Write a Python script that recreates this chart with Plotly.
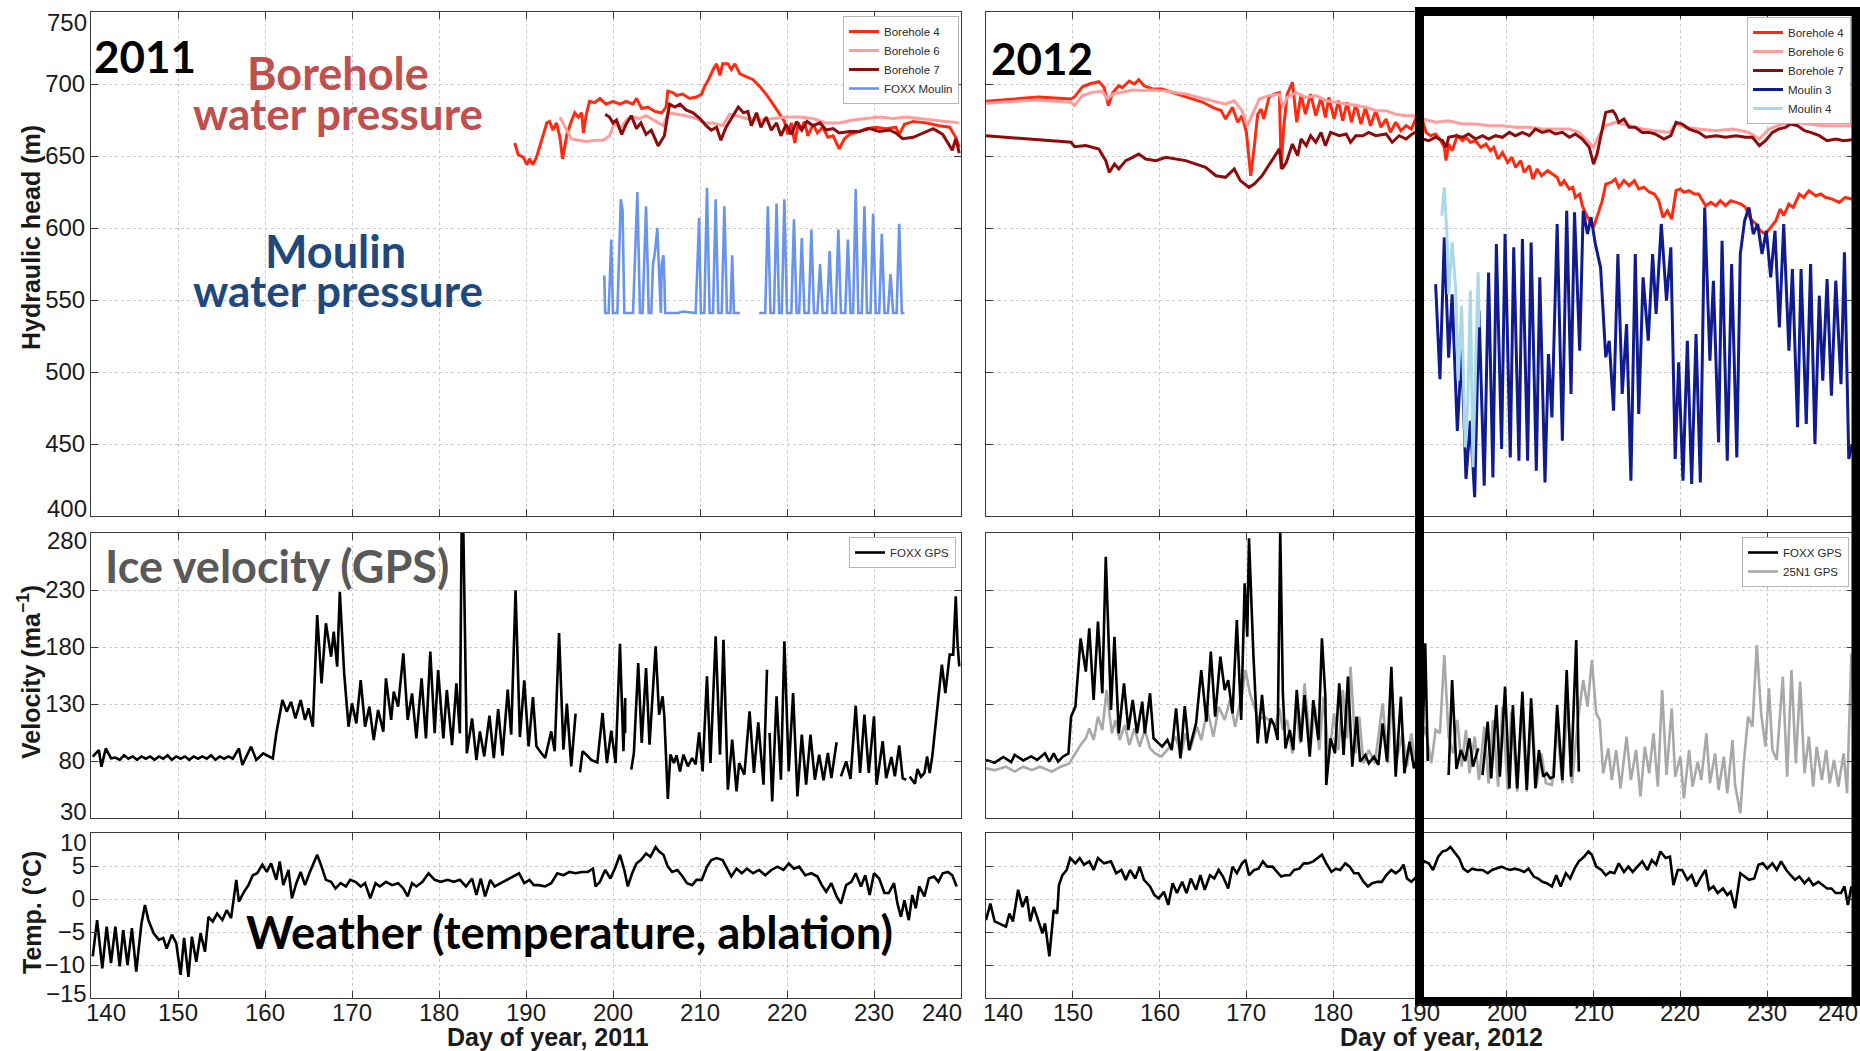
import plotly.graph_objects as go

W, H = 1860, 1051

# ---------------- Hydraulic head, 2011 ----------------
bh4_2011_day = [188.7, 189.1, 189.7, 190.1, 190.4, 190.8, 191.2, 191.8, 192.4, 192.7, 193.1, 193.5, 193.9, 194.2,
                194.7, 195.2, 195.6, 196.0, 196.4, 196.6, 196.9, 197.3, 197.9, 198.5, 199.2, 200.0, 200.8, 201.5,
                202.3, 202.7, 203.3, 204.0, 204.8, 205.6, 206.1, 206.3, 206.9, 207.3, 208.0, 208.8, 209.6, 210.2,
                210.5, 210.9, 211.5, 211.9, 212.3, 212.6, 213.2, 213.6, 214.0, 214.6, 215.3, 216.1, 216.9, 217.6,
                218.4, 219.1, 219.7, 220.1, 220.5, 220.9, 221.3, 221.6, 222.0, 222.4, 223.0, 223.5, 224.1, 224.7,
                225.3, 226.0, 226.6, 227.2, 228.3, 229.1, 230.2, 231.4, 232.5, 232.9, 233.5, 234.5, 236.0, 237.5,
                238.7, 239.4, 239.8]
bh4_2011_head = [659, 651, 649, 644, 648, 644, 649, 661, 673, 674, 668, 673, 663, 648,
                 665, 674, 680, 677, 680, 666, 678, 688, 687, 690, 686, 688, 686, 688,
                 686, 690, 683, 684, 681, 680, 684, 695, 694, 692, 693, 690, 691, 693,
                 698, 702, 710, 714, 706, 714, 714, 710, 714, 707, 705, 703, 698, 693,
                 686, 679, 674, 665, 673, 659, 673, 668, 674, 664, 672, 666, 670, 663,
                 664, 655, 662, 665, 667, 669, 670, 669, 670, 665, 672, 674, 673, 671,
                 670, 663, 656]

bh6_2011_day = [193.9, 194.5, 195.2, 196.0, 197.0, 198.0, 198.9, 199.6, 200.2, 200.8, 201.7, 202.3, 203.0, 203.8,
                205.0, 205.8, 206.3, 207.3, 208.4, 209.6, 210.5, 211.5, 212.6, 213.4, 214.2, 215.3, 216.8, 218.4,
                219.9, 221.4, 223.0, 224.5, 226.0, 227.6, 229.1, 230.6, 232.2, 233.7, 235.2, 236.8, 238.3, 239.8]
bh6_2011_head = [677, 670, 662, 661, 660, 661, 661, 664, 673, 669, 676, 677, 676, 678,
                 674, 671, 680, 679, 678, 676, 673, 673, 671, 679, 678, 676, 675, 676,
                 677, 677, 676, 673, 673, 675, 676, 677, 676, 677, 676, 675, 674, 673]

bh7_2011_day = [199.1, 199.6, 200.0, 200.4, 201.0, 201.5, 202.1, 202.7, 203.2, 203.8, 204.4, 205.2, 205.9, 206.5,
                207.1, 207.7, 208.4, 209.2, 210.0, 210.7, 211.3, 211.9, 212.4, 213.0, 213.8, 214.4, 215.0, 215.5,
                215.9, 216.5, 217.0, 217.6, 218.2, 218.8, 219.3, 219.9, 220.5, 221.1, 221.7, 222.3, 223.0, 223.8,
                224.5, 225.3, 226.0, 227.2, 228.3, 229.5, 230.6, 231.8, 232.5, 233.3, 234.5, 235.6, 236.8, 237.9,
                238.5, 239.0, 239.4, 239.8]
bh7_2011_head = [679, 677, 673, 675, 665, 672, 678, 669, 673, 665, 668, 657, 664, 686,
                 684, 686, 682, 680, 676, 671, 668, 670, 661, 670, 678, 684, 680, 681,
                 671, 680, 670, 677, 668, 673, 664, 672, 665, 674, 668, 674, 671, 673,
                 668, 669, 666, 667, 667, 669, 667, 668, 666, 662, 663, 666, 669, 665,
                 659, 654, 662, 652]

moulin_2011_day = [199.0, 199.1, 199.5, 199.8, 200.0, 200.5, 200.9, 201.1, 201.3, 202.3, 202.8, 203.1, 203.4,
                   203.8, 204.0, 204.1, 204.4, 204.6, 204.8, 205.1, 205.3, 205.5, 205.6, 205.8, 205.9, 206.0,
                   206.5, 207.5, 208.0, 209.5, 209.9, 210.1, 210.5, 210.8, 211.1, 211.5, 211.8, 212.1, 212.5,
                   212.8, 213.1, 213.5, 213.7, 213.9, 214.6, None,
                   216.8, 217.5, 217.8, 218.1, 218.5, 218.8, 219.1, 219.4, 219.7, 220.0, 220.5, 220.8, 221.1,
                   221.4, 221.7, 222.0, 222.5, 222.8, 223.1, 223.5, 223.8, 224.1, 224.6, 224.9, 225.2, 225.6,
                   225.9, 226.2, 226.7, 227.0, 227.3, 227.6, 227.9, 228.2, 228.6, 228.9, 229.2, 229.6, 229.9,
                   230.2, 230.6, 230.9, 231.2, 231.6, 231.9, 232.2, 232.6, 232.9, 233.2, 233.5]
moulin_2011_head = [567, 541, 541, 592, 541, 541, 620, 612, 541, 541, 625, 541, 541,
                    615, 570, 541, 541, 575, 582, 600, 568, 541, 575, 581, 565, 541,
                    541, 541, 542, 541, 607, 541, 541, 628, 541, 541, 620, 541, 541,
                    615, 541, 541, 581, 541, 541, None,
                    541, 541, 615, 541, 541, 617, 541, 541, 620, 541, 541, 606, 541,
                    541, 593, 541, 541, 599, 541, 541, 575, 541, 541, 584, 541, 541,
                    599, 541, 541, 592, 541, 541, 627, 541, 541, 615, 541, 541, 610,
                    541, 541, 596, 541, 541, 568, 541, 541, 603, 541, 541]

# ---------------- Hydraulic head, 2012 ----------------
bh4_2012_day = [140.0, 143.8, 146.1, 149.8, 150.2, 151.1, 151.9, 153.0, 153.6, 154.1, 154.6, 155.3, 155.7, 156.5,
                157.1, 157.6, 158.2, 159.2, 160.3, 161.5, 162.6, 163.8, 165.0, 166.1, 167.1, 167.6, 168.4, 169.0,
                169.5, 170.0, 170.5, 170.9, 171.3, 171.7, 172.0, 172.6, 173.2, 173.8, 174.0, 174.3, 174.7, 175.3,
                175.8, 176.3, 176.8, 177.4, 178.0, 178.6, 179.1, 179.5, 180.1, 180.6, 181.1, 181.6, 182.1, 182.6,
                183.2, 183.7, 184.3, 184.9, 185.5, 186.1, 186.6, 187.2, 187.8, 188.4, 189.0, 189.5, 190.3, 190.7,
                191.2, 191.8, 192.4, 192.8, 193.0, 193.3, 193.7, 194.3, 194.9, 195.3, 195.8, 196.4, 197.0, 197.6,
                198.1, 198.5, 199.0, 199.5, 200.1, 200.6, 201.0, 201.6, 202.0, 202.6, 203.0, 203.5, 204.0, 204.7,
                205.2, 205.8, 206.2, 206.6, 207.2, 207.6, 207.9, 208.4, 208.7, 209.3, 210.0, 210.4, 211.0, 211.4,
                212.0, 212.5, 212.9, 213.5, 214.1, 214.7, 215.2, 215.8, 216.4, 217.0, 217.5, 218.0, 218.5, 219.0,
                219.5, 220.0, 220.4, 221.0, 221.6, 222.1, 222.9, 223.5, 224.1, 224.6, 225.2, 225.8, 226.4, 227.0,
                227.5, 228.1, 228.7, 229.2, 229.8, 230.4, 231.0, 231.5, 231.9, 232.5, 233.0, 233.7, 234.2, 234.8,
                235.6, 236.2, 236.7, 237.5, 238.3, 239.0, 239.8]
bh4_2012_head = [688.0, 689.6, 691.0, 689.6, 691.0, 698.0, 700.0, 701.6, 697.7, 685.0, 694.0, 698.8, 697.5, 702.0,
                 700.0, 703.0, 698.8, 696.5, 696.5, 694.0, 691.9, 689.6, 687.3, 683.8, 681.5, 675.7, 683.8, 673.4,
                 678.0, 666.4, 636.3, 656.0, 679.0, 682.6, 675.7, 690.7, 693.0, 694.0, 641.0, 670.0, 693.0, 701.2,
                 673.4, 693.0, 679.0, 693.0, 678.0, 690.7, 676.8, 690.7, 675.7, 688.4, 674.5, 687.3, 673.4, 686.0,
                 672.2, 683.8, 671.0, 681.5, 670.0, 675.7, 666.4, 673.4, 667.6, 671.0, 668.7, 675.7, 674.5, 666.4,
                 664.1, 665.3, 660.6, 656.0, 646.8, 658.3, 653.7, 664.1, 660.6, 663.0, 659.5, 660.6, 656.0, 658.3,
                 653.7, 656.0, 647.9, 652.5, 645.6, 649.1, 642.1, 646.8, 638.6, 643.3, 634.0, 641.0, 636.3, 639.8,
                 637.5, 635.2, 629.4, 632.9, 627.1, 628.2, 621.3, 623.6, 615.5, 607.4, 600.5, 607.4, 619.0, 630.5,
                 631.7, 634.0, 628.2, 632.9, 629.4, 632.9, 627.1, 628.3, 625.0, 623.6, 619.0, 607.4, 612.0, 606.2,
                 625.9, 627.1, 624.8, 625.9, 623.6, 623.6, 615.5, 617.8, 615.5, 619.0, 615.5, 619.0, 617.8, 616.6,
                 614.3, 606.2, 602.8, 598.1, 595.8, 600.5, 605.1, 613.2, 608.6, 616.6, 614.3, 623.6, 621.3, 625.9,
                 622.4, 623.6, 621.3, 620.1, 617.8, 621.3, 620.0]

bh6_2012_day = [140.0, 145.7, 149.8, 150.2, 151.1, 152.3, 153.4, 154.0, 154.6, 155.7, 156.9, 158.0, 159.2, 160.3,
                161.5, 163.0, 164.5, 166.1, 167.6, 168.6, 169.5, 170.1, 170.7, 171.5, 172.6, 173.8, 174.2, 174.7,
                175.7, 176.8, 178.0, 179.2, 180.3, 181.5, 182.6, 183.8, 184.9, 186.1, 187.2, 188.4, 189.5, 190.3,
                191.8, 193.3, 194.9, 196.4, 198.0, 199.5, 201.0, 202.6, 204.1, 205.6, 207.2, 208.3, 209.3, 210.0,
                210.6, 211.4, 212.5, 214.1, 215.6, 217.1, 218.7, 219.5, 220.6, 222.1, 224.1, 226.0, 227.9, 229.1,
                230.2, 231.7, 233.3, 234.8, 236.4, 237.9, 239.8]
bh6_2012_head = [686.6, 688.9, 687.3, 685.0, 691.9, 694.2, 694.9, 689.6, 693.0, 694.2, 695.8, 695.4, 695.8, 695.4,
                 694.2, 693.0, 690.7, 688.4, 686.0, 688.4, 681.5, 671.0, 679.0, 689.6, 691.9, 693.0, 683.8, 690.7,
                 694.2, 690.7, 691.9, 688.4, 687.3, 686.0, 685.0, 683.8, 681.5, 681.5, 679.0, 678.0, 678.0, 675.7,
                 673.4, 674.5, 672.2, 672.2, 671.0, 671.0, 669.9, 669.9, 668.7, 668.7, 668.7, 666.4, 660.6, 656.0,
                 664.1, 671.0, 673.4, 671.0, 668.7, 667.6, 666.4, 672.2, 669.9, 668.7, 667.6, 668.7, 666.4, 661.8,
                 668.7, 672.2, 673.4, 672.2, 671.0, 671.0, 671.0]

bh7_2012_day = [140.0, 143.8, 147.7, 149.8, 150.2, 151.5, 153.0, 153.8, 154.2, 154.8, 155.3, 156.1, 156.9, 157.6,
                158.4, 159.6, 160.7, 161.9, 163.0, 164.2, 165.3, 166.5, 167.6, 168.6, 169.3, 170.3, 170.9, 171.8,
                172.8, 173.8, 174.1, 174.6, 175.3, 175.9, 176.3, 176.9, 177.4, 178.0, 178.6, 179.1, 179.7, 180.7,
                181.5, 182.0, 182.6, 183.4, 184.1, 184.9, 186.1, 186.8, 187.6, 188.4, 189.1, 189.5, 190.3, 191.0,
                191.8, 192.6, 193.0, 193.3, 194.1, 194.9, 195.6, 196.4, 197.2, 197.9, 198.7, 199.5, 200.3, 201.0,
                201.8, 202.6, 203.3, 204.1, 204.9, 205.6, 206.4, 207.2, 207.9, 208.7, 209.5, 210.0, 210.4, 211.0,
                211.4, 212.2, 212.5, 212.9, 213.5, 214.1, 214.8, 215.6, 216.4, 217.1, 218.1, 218.9, 219.5, 220.2,
                221.0, 222.1, 222.9, 224.1, 225.2, 226.4, 227.5, 228.3, 229.1, 229.8, 230.6, 231.3, 232.1, 232.7,
                233.5, 234.3, 235.0, 236.0, 236.9, 237.9, 238.8, 239.8]
bh7_2012_head = [664.1, 662.5, 660.6, 659.5, 656.5, 657.2, 654.9, 646.8, 638.6, 644.4, 641.0, 646.8, 649.1, 651.4,
                 647.9, 646.8, 649.1, 647.9, 646.8, 644.4, 642.1, 636.3, 635.2, 641.0, 632.9, 628.2, 630.5, 636.3,
                 645.6, 654.9, 641.0, 645.6, 658.3, 650.2, 661.8, 657.2, 664.1, 659.5, 666.4, 657.2, 666.4, 664.1,
                 665.3, 659.5, 664.1, 664.1, 666.4, 664.1, 665.3, 659.5, 664.1, 661.8, 665.3, 666.4, 661.8, 660.6,
                 663.0, 660.6, 656.0, 663.0, 664.1, 663.0, 665.3, 661.8, 664.1, 661.8, 664.1, 663.0, 666.4, 664.1,
                 666.4, 664.1, 668.7, 666.4, 667.6, 665.3, 666.4, 663.0, 665.3, 661.8, 656.0, 644.4, 651.4, 668.7,
                 680.3, 681.5, 679.0, 673.4, 675.7, 669.9, 669.9, 666.4, 666.4, 665.3, 661.8, 664.1, 673.4, 672.2,
                 668.7, 666.4, 663.0, 664.1, 663.0, 664.1, 663.0, 663.0, 657.2, 660.6, 666.4, 668.7, 669.9, 672.2,
                 671.0, 667.6, 666.4, 664.1, 660.6, 661.8, 660.6, 661.3]

moulin3_2012_day = [191.8, 192.3, 192.8, 193.3, 193.7, 194.3, 194.8, 195.3, 195.8, 196.3, 196.8, 197.4, 197.9, 198.4,
                    198.8, 199.4, 199.8, 200.4, 200.8, 201.4, 201.8, 202.4, 202.8, 203.4, 203.8, 204.4, 204.8, 205.2,
                    205.8, 206.4, 206.9, 207.4, 207.8, 208.4, 208.8, 209.3, 209.7, 210.2, 210.8, 211.4, 211.8, 212.3,
                    212.8, 213.3, 213.8, 214.3, 214.8, 215.2, 215.7, 216.3, 216.8, 217.2, 217.8, 218.4, 218.9, 219.4,
                    219.8, 220.3, 220.8, 221.3, 221.8, 222.3, 222.8, 223.4, 223.8, 224.4, 224.8, 225.4, 225.9, 226.5,
                    226.9, 227.4, 227.9, 228.4, 228.9, 229.4, 229.9, 230.4, 230.9, 231.4, 231.9, 232.5, 232.9, 233.5,
                    233.9, 234.5, 235.0, 235.5, 236.0, 236.4, 236.9, 237.4, 237.9, 238.5, 238.9, 239.4, 239.8]
moulin3_2012_head = [561.0, 495.0, 593.5, 510.0, 554.0, 459.0, 515.0, 425.7, 466.0, 413.0, 542.6, 421.0, 569.0, 426.8,
                     588.9, 446.5, 595.8, 440.7, 586.6, 438.4, 592.3, 438.4, 590.0, 431.5, 565.7, 423.3, 512.5, 468.5,
                     602.8, 452.3, 612.0, 484.7, 610.9, 514.8, 612.0, 595.8, 607.4, 588.9, 572.7, 510.2, 521.7, 473.1,
                     581.9, 484.7, 533.3, 424.5, 581.9, 470.8, 565.7, 521.7, 581.9, 540.3, 602.8, 549.5, 586.6, 439.6,
                     506.7, 424.5, 521.7, 422.2, 526.4, 423.3, 614.3, 507.8, 563.4, 451.1, 591.2, 438.4, 575.0, 440.7,
                     581.9, 605.1, 614.3, 595.8, 602.8, 581.9, 598.1, 565.7, 598.1, 531.0, 602.8, 514.8, 571.5, 461.6,
                     571.5, 463.9, 575.0, 450.0, 553.0, 494.0, 564.6, 483.5, 563.4, 491.6, 583.1, 439.6, 450.0]

moulin4_2012_day = [192.5, 192.8, 193.1, 193.3, 193.7, 194.1, 194.4, 194.8, 195.2, 195.5, 195.8, 196.1, 196.4, 196.7,
                    196.8]
moulin4_2012_head = [608.5, 628.2, 596.0, 554.0, 590.0, 558.8, 494.0, 546.0, 447.7, 477.8, 556.5, 433.8, 503.2, 569.2,
                     531.0]

# ---------------- Ice velocity ----------------
foxx_2011_day = [140.2, 140.9, 141.2, 141.7, 142.3, 142.8, 143.3, 143.8, 144.3, 144.8, 145.3, 145.8, 146.3, 146.8,
                 147.3, 147.8, 148.3, 148.8, 149.3, 149.8, 150.3, 150.8, 151.3, 151.8, 152.3, 152.8, 153.3, 153.8,
                 154.3, 154.8, 155.3, 155.8, 156.3, 157.0, 157.4, 158.4, 159.0, 159.8, 160.9, 161.3, 162.0, 162.5,
                 163.0, 163.5, 164.1, 164.6, 165.0, 165.5, 166.0, 166.5, 167.0, 167.6, 167.9, 168.3, 168.6, 169.1,
                 169.6, 170.0, 170.5, 171.0, 171.5, 172.0, 172.5, 173.0, 173.6, 173.9, 174.5, 174.8, 175.3, 175.9,
                 176.4, 176.9, 177.4, 178.0, 178.5, 179.0, 179.5, 179.9, 180.5, 180.9, 181.5, 182.0, 182.4, 182.6,
                 182.8, 183.2, 183.8, 184.3, 184.7, 185.2, 185.8, 186.3, 186.8, 187.3, 187.9, 188.3, 188.8, 189.3,
                 189.8, 190.3, 190.8, 191.2, 191.6, 192.2, 192.9, 193.3, 193.8, 194.3, 194.7, 195.2, 195.7, None,
                 196.2, 196.5, 197.0, 197.5, 198.2, 198.8, 199.3, 199.8, 200.3, 200.8, 201.2, 201.4, 201.4, None,
                 202.1, 202.4, 202.9, 203.3, 203.8, 204.2, 204.9, 205.3, 205.7, 205.9, 206.3, 206.6, 207.0, 207.3,
                 207.7, 208.1, 208.6, 209.1, 209.5, 209.9, 210.3, 210.8, 211.2, 211.8, 212.3, 212.7, 213.2, 213.7,
                 214.2, 214.5, 215.1, 215.7, 216.2, 216.7, 217.3, 217.7, None, 218.0, 218.3, 218.8, 219.3, 219.7,
                 220.2, 220.7, 221.2, 221.7, 222.2, 222.7, 223.2, 223.7, 224.2, 224.7, 225.1, 225.7, None, 226.2,
                 226.8, 227.3, 227.9, 228.4, 228.9, 229.4, 230.0, 230.3, 231.0, 231.4, 232.0, 232.4, 232.9, 233.3,
                 233.7, None, 234.1, 234.7, 235.0, 235.4, 235.8, 236.1, 236.4, 236.7, 237.2, 237.8, 238.2, 238.7,
                 239.1, 239.4, 239.6, 239.8]
foxx_2011_vel = [83.8, 89.6, 75.0, 91.0, 82.3, 83.0, 81.0, 85.0, 82.0, 84.0, 81.0, 84.0, 82.0, 84.0,
                 81.0, 84.0, 82.0, 85.0, 81.0, 84.0, 82.0, 84.0, 81.0, 84.0, 82.0, 84.0, 82.0, 85.0,
                 81.0, 84.0, 82.0, 84.0, 82.0, 91.0, 76.5, 92.6, 80.9, 86.7, 82.3, 104.3, 133.5, 123.3,
                 132.0, 117.4, 133.5, 116.0, 126.2, 110.1, 208.0, 148.0, 200.8, 171.5, 193.4, 162.7, 228.5, 156.9,
                 110.1, 130.6, 113.0, 151.0, 110.1, 127.7, 98.4, 124.7, 105.7, 152.5, 116.0, 140.8, 127.7, 174.4,
                 116.0, 139.3, 99.9, 152.5, 99.9, 175.9, 104.3, 159.8, 99.9, 142.3, 94.0, 148.1, 104.3, 282.0,
                 282.0, 86.7, 117.4, 80.9, 106.0, 84.0, 119.8, 82.6, 125.6, 84.7, 142.6, 103.1, 229.7, 101.0,
                 150.8, 92.9, 136.1, 92.9, 88.5, 82.6, 106.0, 88.5, 192.3, 90.0, 130.3, 75.3, 121.5, None,
                 70.0, 88.5, 85.0, 81.0, 78.8, 122.1, 78.2, 106.6, 78.2, 182.9, 88.5, 135.3, 104.6, None,
                 72.4, 87.0, 166.0, 95.8, 161.6, 94.3, 180.6, 120.6, 136.7, 119.2, 46.7, 85.6, 78.2, 85.0,
                 70.9, 85.6, 75.3, 82.6, 77.0, 105.1, 70.9, 154.3, 78.2, 189.4, 85.6, 186.4, 54.9, 98.7,
                 53.4, 78.2, 68.0, 123.6, 69.5, 113.9, 59.2, 160.1, None, 104.6, 44.6, 136.7, 63.6, 185.0,
                 70.9, 139.6, 49.0, 103.1, 59.2, 103.1, 63.6, 85.6, 63.0, 87.0, 65.0, 96.4, None, 66.5,
                 79.7, 64.2, 128.5, 69.5, 120.6, 69.5, 119.2, 59.2, 97.3, 65.0, 83.5, 66.5, 93.7, 65.0,
                 63.6, None, 66.5, 60.1, 73.0, 66.0, 69.5, 84.1, 69.5, 84.1, 120.6, 164.5, 139.6, 173.3,
                 173.3, 224.4, 183.5, 163.0]

foxx_2012_day = [140.0, 141.0, 142.0, 142.9, 143.3, 144.3, 145.2, 145.9, 146.8, 147.3, 147.8, 148.3, 148.9, 149.5,
                 149.8, 150.3, 150.9, 151.5, 151.9, 152.4, 152.9, 153.4, 153.8, 154.4, 154.8, 155.3, 155.9, 156.4,
                 156.9, 157.4, 158.0, 158.3, 158.9, 159.3, 159.9, 160.3, 160.9, 161.4, 161.9, 162.4, 162.9, 163.4,
                 164.2, 164.8, 165.4, 165.9, 166.4, 167.0, 167.5, 167.9, 168.4, 168.9, 169.4, 169.8, 170.1, 170.3,
                 170.8, 171.3, 171.8, 172.3, 172.8, 173.2, 173.6, 173.9, 174.2, 174.5, 175.0, 175.4, 175.8, 176.3,
                 176.7, 177.3, 177.7, 178.3, 178.7, 179.1, 179.2, 179.7, 180.2, 180.7, 181.2, 181.7, 182.2, 182.7,
                 183.1, 183.7, 184.1, 184.7, 185.2, 185.7, 186.2, 186.7, 187.2, 187.8, 188.2, 188.8, 189.3, 189.8,
                 190.3, 190.6, 190.9, None, 193.3, 193.7, 194.2, 194.7, 195.2, 195.7, 196.1, 196.7, None, 197.2,
                 197.8, 198.2, 198.8, 199.2, 199.8, 200.3, 200.7, 201.2, 201.8, 202.3, 202.8, 203.3, 203.7, 204.2,
                 204.6, 205.0, 205.4, 205.8, 206.4, 206.9, 207.4, 208.0, 208.3]
foxx_2012_vel = [80.9, 78.5, 83.5, 79.0, 85.3, 80.5, 84.0, 81.0, 86.7, 79.5, 86.7, 79.5, 84.0, 86.7,
                 118.9, 127.7, 187.6, 158.4, 196.4, 133.5, 202.2, 139.4, 259.2, 124.7, 189.0, 104.3, 148.1, 107.2,
                 133.5, 104.3, 132.0, 104.3, 139.4, 99.9, 95.5, 92.6, 98.4, 89.6, 126.2, 82.3, 128.2, 89.6,
                 113.0, 159.8, 114.5, 175.9, 118.9, 171.5, 142.3, 151.0, 121.8, 203.7, 116.0, 235.8, 189.0, 275.3,
                 174.4, 95.5, 137.9, 95.5, 117.4, 111.6, 98.4, 282.0, 139.4, 91.1, 107.2, 89.6, 142.3, 97.0,
                 137.9, 83.8, 133.5, 98.4, 187.6, 136.4, 58.9, 99.9, 86.7, 148.1, 85.3, 154.0, 75.0, 118.9,
                 79.4, 85.3, 77.9, 83.8, 76.5, 113.0, 79.4, 162.7, 66.3, 136.4, 69.2, 97.0, 73.6, 86.7,
                 97.0, 183.2, 80.0, None, 67.7, 151.0, 73.0, 89.6, 80.0, 99.9, 75.0, 91.1, None, 67.7,
                 114.5, 64.8, 129.1, 66.3, 145.2, 56.0, 129.1, 56.0, 140.8, 54.6, 135.0, 56.0, 89.6, 66.3,
                 69.2, 64.8, 66.3, 129.1, 63.3, 159.8, 66.3, 186.1, 70.7]

gps25n1_2012_day = [140.0, 141.0, 142.3, 143.3, 144.3, 145.3, 146.2, 147.6, 148.6, 149.6, 150.3, 150.9, 151.5, 151.9,
                    152.4, 152.9, 153.4, 153.9, 154.5, 154.9, 155.4, 156.0, 156.5, 157.1, 157.7, 158.3, 158.9, 159.5,
                    160.2, 161.2, 161.8, 162.5, 163.0, 163.5, 164.3, 164.8, 165.5, 166.2, 166.8, 167.5, 168.1, 168.7,
                    169.5, 169.9, 170.4, 170.9, 171.4, 172.1, 172.8, 173.3, 173.8, 174.2, 174.7, 175.3, 175.7, 176.2,
                    176.7, 177.4, 177.9, 178.4, 178.9, 179.5, 180.1, 180.6, 181.1, 181.6, 182.0, 182.6, 183.0, 183.5,
                    184.1, 184.8, 185.7, 186.3, 186.8, 187.3, 188.0, 188.5, 189.0, 189.5, 190.0, 190.6, 191.3, 191.8,
                    192.3, 192.8, 193.3, 193.8, 194.3, 194.8, 195.3, 195.7, 196.3, 196.8, 197.4, 197.9, 198.4, 199.0,
                    199.5, 200.1, 200.5, 201.2, 201.7, 202.3, 202.9, 203.4, 204.0, 204.5, 205.2, 205.8, 206.4, 207.0,
                    207.5, 208.2, 208.8, 209.3, 209.8, 210.3, 210.7, 211.1, 211.7, 212.1, 212.6, 213.1, 213.8, 214.3,
                    214.9, 215.4, 215.9, 216.4, 216.9, 217.4, 217.9, 218.4, 219.0, 219.4, 220.0, 220.4, 221.0, 221.4,
                    222.0, 222.4, 223.0, 223.4, 224.0, 224.4, 225.0, 225.4, 226.0, 226.3, 226.9, 227.3, 227.8, 228.3,
                    228.8, 229.3, 229.8, 230.2, 230.6, 231.1, 231.8, 232.3, 232.8, 233.3, 233.8, 234.3, 234.8, 235.3,
                    235.7, 236.3, 236.8, 237.2, 237.7, 238.2, 238.8, 239.2, 239.7]
gps25n1_2012_vel = [73.6, 72.0, 75.0, 70.7, 75.0, 72.0, 75.0, 70.7, 75.0, 77.9, 86.7, 94.0, 99.9, 108.6,
                    98.4, 118.9, 107.2, 142.3, 104.3, 116.0, 98.4, 111.6, 94.0, 108.6, 92.6, 107.2, 91.1, 86.7,
                    83.8, 92.6, 101.3, 86.7, 104.3, 89.6, 110.1, 98.4, 124.7, 101.3, 127.7, 116.0, 133.5, 110.1,
                    139.4, 159.8, 139.4, 127.7, 116.0, 118.9, 114.5, 110.1, 126.2, 107.2, 116.0, 86.7, 126.2, 95.5,
                    148.1, 92.6, 127.7, 89.6, 136.4, 83.8, 121.8, 89.6, 142.3, 99.9, 162.7, 86.7, 118.9, 77.9,
                    89.6, 77.9, 130.6, 77.9, 142.3, 80.9, 104.3, 75.0, 104.3, 73.6, 89.6, 110.1, 77.9, 107.2,
                    104.3, 173.0, 101.3, 86.7, 116.0, 75.0, 107.2, 69.2, 101.3, 63.3, 110.1, 60.4, 116.0, 57.5,
                    127.7, 54.6, 123.3, 53.1, 127.7, 53.1, 127.7, 57.5, 86.7, 60.4, 58.9, 110.1, 60.4, 130.6,
                    60.4, 116.0, 151.0, 127.7, 168.6, 121.8, 116.0, 69.2, 91.1, 63.3, 89.6, 56.0, 101.3, 63.3,
                    89.6, 48.7, 92.6, 69.2, 104.3, 57.5, 142.3, 67.7, 126.2, 66.3, 83.8, 47.3, 89.6, 57.5,
                    79.4, 63.3, 104.3, 60.4, 86.7, 54.6, 83.8, 51.7, 98.4, 58.9, 34.1, 78.0, 118.9, 110.1,
                    181.7, 121.8, 92.6, 143.7, 89.6, 80.9, 154.0, 66.3, 159.8, 77.9, 149.6, 69.2, 101.3, 57.5,
                    92.6, 63.3, 89.6, 60.4, 80.9, 57.5, 86.7, 51.7, 174.4]

# ---------------- Air temperature ----------------
temp_2011_day = [140.2, 140.7, 141.3, 141.8, 142.3, 142.8, 143.3, 143.7, 144.2, 144.7, 145.2, 145.8, 146.2, 146.6,
                 147.2, 147.8, 148.3, 148.7, 149.3, 149.8, 150.3, 150.7, 151.2, 151.6, 152.1, 152.6, 153.1, 153.5,
                 154.0, 154.5, 155.1, 155.6, 156.1, 156.7, 157.0, 157.6, 158.1, 158.6, 159.1, 159.7, 160.2, 160.7,
                 161.3, 161.7, 162.1, 162.7, 163.1, 163.6, 164.1, 164.6, 165.1, 165.5, 166.0, 166.5, 167.0, 167.6,
                 168.1, 168.7, 169.3, 169.8, 170.4, 171.0, 171.5, 172.1, 172.7, 173.2, 173.9, 174.6, 175.3, 175.9,
                 176.4, 176.9, 177.4, 178.1, 178.8, 179.5, 180.2, 181.0, 181.7, 182.4, 183.1, 183.8, 184.3, 184.8,
                 185.3, 185.9, 186.4, 187.1, 187.8, 188.5, 189.2, 189.8, 190.4, 190.9, 191.5, 192.2, 192.9, 193.6,
                 194.3, 195.0, 195.7, 196.4, 197.1, 197.7, 198.0, 198.5, 199.1, 199.7, 200.3, 200.8, 201.3, 201.7,
                 202.2, 202.7, 203.2, 203.8, 204.3, 204.9, 205.3, 205.8, 206.3, 206.8, 207.4, 208.0, 208.5, 209.1,
                 209.6, 210.2, 210.8, 211.3, 211.9, 212.6, 213.2, 213.6, 214.2, 214.8, 215.4, 216.1, 216.8, 217.5,
                 218.2, 218.9, 219.6, 220.2, 220.8, 221.4, 222.1, 222.8, 223.5, 224.0, 224.5, 225.1, 225.7, 226.2,
                 226.8, 227.4, 227.9, 228.5, 229.0, 229.5, 230.0, 230.6, 231.2, 231.7, 232.3, 232.7, 233.1, 233.5,
                 234.0, 234.4, 234.8, 235.2, 235.8, 236.3, 236.9, 237.4, 237.9, 238.5, 239.0, 239.5]
temp_2011_val = [-8.7, -3.2, -10.5, -4.2, -9.7, -4.2, -10.2, -4.7, -10.0, -4.4, -11.0, -3.7, -0.9, -3.2,
                 -5.2, -6.2, -5.9, -7.5, -5.4, -6.7, -11.5, -5.9, -11.8, -5.7, -9.5, -5.2, -8.0, -2.7,
                 -3.4, -2.2, -3.2, -1.7, -2.9, 2.9, -0.4, 1.1, 2.1, 3.6, 3.9, 5.2, 4.1, 5.4,
                 2.9, 5.7, 2.1, 4.4, 0.1, 2.4, 4.1, 2.1, 3.9, 5.2, 6.7, 4.9, 2.9, 2.6,
                 1.6, 2.4, 1.9, 2.9, 2.6, 1.9, 2.4, 0.1, 2.4, 1.9, 2.6, 2.1, 2.4, 1.6,
                 0.4, 2.4, 1.9, 2.6, 3.9, 2.9, 2.6, 2.9, 2.6, 2.9, 1.9, 3.1, 0.6, 3.1,
                 0.4, 2.9, 1.9, 2.4, 2.9, 3.4, 3.9, 2.4, 2.9, 2.1, 2.1, 1.9, 2.4, 3.9,
                 3.6, 4.1, 3.9, 4.1, 4.1, 4.6, 1.9, 2.6, 4.4, 3.1, 4.9, 6.7, 4.4, 1.9,
                 3.9, 5.4, 5.9, 6.9, 6.4, 7.9, 7.2, 6.7, 4.9, 4.1, 4.4, 3.4, 2.4, 2.1,
                 2.9, 2.9, 4.9, 5.9, 6.2, 5.9, 4.4, 3.4, 4.6, 3.9, 4.6, 3.9, 4.4, 3.6,
                 4.4, 4.9, 4.4, 5.4, 4.6, 4.9, 3.6, 3.9, 3.4, 2.1, 1.1, 2.4, 0.4, -0.7,
                 2.1, 2.6, 3.9, 1.9, 3.6, 0.6, 3.9, 3.1, 0.9, 0.9, 2.4, -0.7, -2.7, -0.2,
                 -3.2, 0.6, -1.4, 1.9, 0.4, 3.1, 3.4, 2.6, 3.9, 4.1, 3.6, 1.9]

temp_2012_day = [140.0, 140.5, 141.0, 141.7, 142.3, 142.7, 143.1, 143.7, 144.2, 144.7, 145.1, 145.5, 146.0, 146.5,
                 146.8, 147.3, 147.8, 148.2, 148.4, 148.8, 149.3, 149.7, 150.3, 150.8, 151.3, 151.9, 152.4, 152.9,
                 153.6, 154.4, 155.0, 155.6, 156.1, 156.6, 157.2, 157.7, 158.2, 158.9, 159.4, 159.9, 160.5, 161.0,
                 161.5, 162.0, 162.6, 163.1, 163.6, 164.2, 164.7, 165.2, 165.8, 166.3, 166.8, 167.3, 167.9, 168.4,
                 168.9, 169.5, 169.9, 170.3, 170.9, 171.4, 171.9, 172.4, 173.0, 173.5, 174.0, 174.5, 175.0, 175.5,
                 176.1, 176.6, 177.1, 177.7, 178.2, 178.7, 179.2, 179.8, 180.3, 180.8, 181.4, 181.9, 182.4, 182.9,
                 183.5, 184.0, 184.5, 185.1, 185.6, 186.1, 186.7, 187.2, 187.7, 188.1, 188.5, 189.0, 189.6, 190.0,
                 190.5, 191.0, 191.5, 192.1, 192.6, 193.1, 193.5, 193.9, 194.5, 195.0, 195.5, 196.0, 196.6, 197.2,
                 197.8, 198.3, 198.8, 199.4, 199.9, 200.4, 200.9, 201.5, 202.0, 202.5, 203.1, 203.6, 204.1, 204.6,
                 205.2, 205.7, 206.2, 206.8, 207.3, 207.8, 208.3, 208.9, 209.4, 209.8, 210.3, 210.9, 211.4, 211.9,
                 212.4, 212.9, 213.5, 214.0, 214.5, 215.1, 215.6, 216.2, 216.7, 217.2, 217.7, 218.3, 218.8, 219.2,
                 219.7, 220.2, 220.8, 221.3, 221.8, 222.4, 222.9, 223.3, 223.8, 224.3, 224.9, 225.4, 225.8, 226.3,
                 226.9, 227.4, 227.9, 228.5, 229.0, 229.5, 230.0, 230.6, 231.1, 231.6, 232.2, 232.7, 233.2, 233.7,
                 234.3, 234.8, 235.3, 235.9, 236.4, 236.9, 237.4, 237.9, 238.5, 238.9, 239.3, 239.7]
temp_2012_val = [-3.2, -0.7, -3.4, -3.9, -4.2, -2.2, -3.4, 1.4, -1.2, 0.4, -3.4, -1.2, -3.2, -5.2,
                 -3.7, -8.7, -1.7, -2.2, 2.1, 3.6, 4.4, 6.2, 5.4, 6.2, 5.2, 5.7, 4.4, 6.2,
                 5.4, 5.7, 3.9, 4.4, 2.9, 4.4, 3.1, 4.9, 2.9, 1.9, 0.6, 0.1, 1.1, -0.9,
                 2.4, 0.9, 2.6, 0.9, 3.1, 1.4, 3.6, 1.4, 3.6, 3.1, 4.4, 3.4, 1.6, 4.9,
                 3.9, 5.4, 5.9, 3.6, 4.4, 4.6, 5.7, 4.9, 4.9, 4.1, 3.4, 3.6, 3.6, 4.4,
                 4.6, 5.4, 5.4, 5.7, 6.2, 6.7, 5.4, 4.1, 4.6, 4.4, 5.4, 4.9, 3.9, 3.9,
                 2.6, 1.9, 2.4, 2.6, 2.6, 3.6, 4.4, 3.9, 4.4, 5.2, 3.1, 2.6, 3.4, 4.9,
                 5.7, 5.4, 4.4, 6.4, 7.2, 7.4, 7.9, 7.2, 6.2, 4.6, 4.1, 4.6, 4.4, 4.4,
                 3.9, 4.4, 4.6, 4.9, 4.6, 4.4, 4.6, 4.4, 4.1, 4.6, 3.4, 3.1, 2.6, 2.4,
                 1.9, 3.6, 1.9, 3.9, 3.1, 4.6, 5.7, 6.4, 7.2, 6.7, 4.9, 4.4, 3.6, 4.1,
                 3.9, 5.4, 4.1, 4.9, 4.1, 4.9, 5.7, 4.4, 5.9, 5.2, 7.2, 6.2, 6.4, 2.1,
                 4.4, 4.4, 2.9, 3.6, 1.9, 3.4, 4.4, 1.4, 1.9, 0.9, 1.6, 0.6, 1.1, -1.4,
                 3.9, 3.4, 2.9, 3.1, 5.2, 5.4, 4.6, 5.4, 4.4, 5.7, 4.4, 3.6, 2.9, 3.4,
                 2.4, 3.1, 2.1, 2.6, 2.1, 1.6, 1.6, 0.9, 0.9, 1.9, -0.9, 1.9]

# ---------------- Axis ticks ----------------
day_ticks = [140, 150, 160, 170, 180, 190, 200, 210, 220, 230, 240]
head_ticks = [400, 450, 500, 550, 600, 650, 700, 750]
vel_ticks = [30, 80, 130, 180, 230, 280]
temp_ticks = [-15, -10, -5, 0, 5, 10]

# ---------------- Styling ----------------
C_BH4 = "#ff2a10"
C_BH6 = "#ff9c9c"
C_BH7 = "#8e0b0b"
C_FOXX_MOULIN = "#6a94ec"
C_M3 = "#0f1b8f"
C_M4 = "#aad8e6"
C_GRAY = "#a8a8a8"

LABEL_FAMILY = "Liberation Sans, Arial, sans-serif"
TICK_FONT = dict(family=LABEL_FAMILY, size=24, color="#1a1a1a")
BIG_FONT = "Lato, Open Sans, sans-serif"

# plot-area geometry in pixels (left, right) and (top, bottom)
COL_L = (91, 961)
COL_R = (986, 1854)
ROW_T = (12, 516)
ROW_M = (533, 818)
ROW_B = (833, 998)


def xdom(c):
    return [c[0] / W, c[1] / W]


def ydom(r):
    return [1 - r[1] / H, 1 - r[0] / H]


def px(x):
    return x / W


def py(y):
    return 1 - y / H


fig = go.Figure()


def line(x, y, color, width, name, xa, ya, legend, showlegend=True, rank=None):
    tr = go.Scatter(x=x, y=y, mode="lines", name=name, xaxis=xa, yaxis=ya,
                    line=dict(color=color, width=width), connectgaps=False,
                    legend=legend, showlegend=showlegend, hoverinfo="skip")
    if rank is not None:
        tr.legendrank = rank
    fig.add_trace(tr)


# top row
line(bh4_2011_day, bh4_2011_head, C_BH4, 3, "Borehole 4", "x", "y", "legend")
line(bh6_2011_day, bh6_2011_head, C_BH6, 3, "Borehole 6", "x", "y", "legend")
line(bh7_2011_day, bh7_2011_head, C_BH7, 3, "Borehole 7", "x", "y", "legend")
line(moulin_2011_day, moulin_2011_head, C_FOXX_MOULIN, 2.6, "FOXX Moulin", "x", "y", "legend")

line(bh4_2012_day, bh4_2012_head, C_BH4, 3, "Borehole 4", "x2", "y2", "legend2")
line(bh6_2012_day, bh6_2012_head, C_BH6, 3, "Borehole 6", "x2", "y2", "legend2")
line(bh7_2012_day, bh7_2012_head, C_BH7, 3, "Borehole 7", "x2", "y2", "legend2")
line(moulin3_2012_day, moulin3_2012_head, C_M3, 3, "Moulin 3", "x2", "y2", "legend2")
line(moulin4_2012_day, moulin4_2012_head, C_M4, 3, "Moulin 4", "x2", "y2", "legend2")

# middle row
line(foxx_2011_day, foxx_2011_vel, "black", 2.6, "FOXX GPS", "x3", "y3", "legend3")
line(gps25n1_2012_day, gps25n1_2012_vel, C_GRAY, 2.6, "25N1 GPS", "x4", "y4", "legend4", rank=2)
line(foxx_2012_day, foxx_2012_vel, "black", 2.6, "FOXX GPS", "x4", "y4", "legend4", rank=1)

# bottom row
line(temp_2011_day, temp_2011_val, "black", 2.6, "Temperature 2011", "x5", "y5", "legend", showlegend=False)
line(temp_2012_day, temp_2012_val, "black", 2.6, "Temperature 2012", "x6", "y6", "legend", showlegend=False)

AXIS_COMMON = dict(showgrid=True, gridcolor="#c9c9c9", griddash="dot", gridwidth=1,
                   showline=True, linecolor="#3a3a3a", linewidth=1, mirror="ticks",
                   ticks="inside", ticklen=7, tickcolor="#3a3a3a", zeroline=False,
                   tickfont=TICK_FONT, automargin=False, fixedrange=True)


def xaxis_style(col, anchor):
    # day labels are written as annotations tied to this axis (see below)
    return dict(domain=xdom(col), anchor=anchor, range=[day_ticks[0], day_ticks[-1]],
                tickmode="array", tickvals=day_ticks[1:-1], showticklabels=False, **AXIS_COMMON)


def yaxis_style(row, anchor, ticks, labels):
    inner = ticks[1:-1]
    return dict(domain=ydom(row), anchor=anchor, range=[ticks[0], ticks[-1]],
                tickmode="array", tickvals=inner,
                ticktext=[str(v).replace("-", "\u2212") for v in inner],
                showticklabels=labels, **AXIS_COMMON)


def legend_style(right, top):
    return dict(x=px(right), y=py(top), xanchor="right", yanchor="top",
                bgcolor="white", bordercolor="#b5b5b5", borderwidth=1,
                font=dict(family=LABEL_FAMILY, size=11.5, color="#2a2a2a"),
                tracegroupgap=0, itemwidth=30, traceorder="normal")


annotations = []


def text(s, x, y, size, color, family=BIG_FONT, xanchor="center", bold=True, angle=0):
    annotations.append(dict(text=(f"<b>{s}</b>" if bold else s), x=px(x), y=py(y),
                            xref="paper", yref="paper", xanchor=xanchor, yanchor="middle",
                            showarrow=False, textangle=angle,
                            font=dict(family=family, size=size, color=color)))


def fmt(v):
    return str(v).replace("-", "\u2212")


# day-of-year labels on the bottom axes; the end labels sit slightly inside the frame
for axis, shifts in (("x5", (15, -19)), ("x6", (17, -16))):
    for d in day_ticks:
        shift = shifts[0] if d == day_ticks[0] else (shifts[1] if d == day_ticks[-1] else 0)
        annotations.append(dict(text=fmt(d), x=d, xref=axis, y=py(1012), yref="paper",
                                xanchor="center", yanchor="middle", xshift=shift, showarrow=False,
                                font=TICK_FONT))

# end-of-axis value labels, kept inside the frame
for ticks, ys in ((head_ticks, (23, 509)), (vel_ticks, (540, 811)), (temp_ticks, (842, 993))):
    text(fmt(ticks[-1]), 89, ys[0], 24, "#1a1a1a", family=LABEL_FAMILY, xanchor="right", bold=False)
    text(fmt(ticks[0]), 89, ys[1], 24, "#1a1a1a", family=LABEL_FAMILY, xanchor="right", bold=False)

# panel headings and descriptive labels
text("2011", 92, 56, 44, "black", xanchor="left")
text("2012", 989, 58, 44, "black", xanchor="left")
text("Borehole", 338, 73, 45, "#c0504d")
text("water pressure", 338, 113, 44, "#c0504d")
text("Moulin", 335, 251, 45, "#1f497d")
text("water pressure", 338, 290, 44, "#1f497d")
text("Ice velocity (GPS)", 277, 566, 45, "#595959")
text("Weather (temperature, ablation)", 569, 931, 45.5, "black")

# axis titles
text("Hydraulic head (m)", 31, 238, 25, "#1a1a1a", family=LABEL_FAMILY, angle=-90)
text("Velocity (ma<sup>\u22121</sup>)", 29, 672, 25, "#1a1a1a", family=LABEL_FAMILY, angle=-90)
text("Temp. (\u00b0C)", 32, 913, 25, "#1a1a1a", family=LABEL_FAMILY, angle=-90)
text("Day of year, 2011", 548, 1037, 25, "#1a1a1a", family=LABEL_FAMILY)
text("Day of year, 2012", 1441, 1037, 25, "#1a1a1a", family=LABEL_FAMILY)

fig.update_layout(
    width=W, height=H, template="none",
    margin=dict(l=0, r=0, t=0, b=0, pad=0),
    paper_bgcolor="white", plot_bgcolor="white",
    font=dict(family=LABEL_FAMILY, color="#1a1a1a"),
    xaxis=xaxis_style(COL_L, "y"),
    xaxis2=xaxis_style(COL_R, "y2"),
    xaxis3=xaxis_style(COL_L, "y3"),
    xaxis4=xaxis_style(COL_R, "y4"),
    xaxis5=xaxis_style(COL_L, "y5"),
    xaxis6=xaxis_style(COL_R, "y6"),
    yaxis=yaxis_style(ROW_T, "x", head_ticks, True),
    yaxis2=yaxis_style(ROW_T, "x2", head_ticks, False),
    yaxis3=yaxis_style(ROW_M, "x3", vel_ticks, True),
    yaxis4=yaxis_style(ROW_M, "x4", vel_ticks, False),
    yaxis5=yaxis_style(ROW_B, "x5", temp_ticks, True),
    yaxis6=yaxis_style(ROW_B, "x6", temp_ticks, False),
    legend=legend_style(959, 16),
    legend2=legend_style(1851, 17),
    legend3=legend_style(956, 537),
    legend4=legend_style(1849, 537),
    annotations=annotations,
    shapes=[dict(type="rect", xref="paper", yref="paper",
                 x0=px(1419.5), x1=px(1856), y0=py(1001.5), y1=py(11.5),
                 line=dict(color="black", width=9), fillcolor="rgba(0,0,0,0)", layer="above")],
)

fig.write_html("out.html")
